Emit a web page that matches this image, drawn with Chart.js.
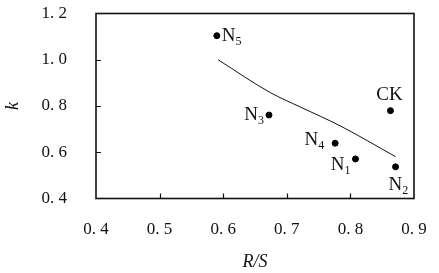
<!DOCTYPE html>
<html><head><meta charset="utf-8">
<script src="https://cdn.jsdelivr.net/npm/chart.js@4/dist/chart.umd.min.js"></script>
<style>html,body{margin:0;padding:0;background:#fff}canvas{display:block}</style>
</head><body><canvas id="c" width="439" height="273"></canvas>
<script>
// Data
const pointNames = ['N', 'N', 'N', 'N', 'CK', 'N'];
const pointSubs = ['5', '3', '4', '1', '', '2'];
const rsValues = [0.590, 0.672, 0.776, 0.808, 0.863, 0.871];
const kValues = [1.104, 0.761, 0.639, 0.571, 0.780, 0.537];
const fitRS = [0.592, 0.674, 0.721, 0.784, 0.871];
const fitK = [1.000, 0.858, 0.796, 0.714, 0.581];
const xTicks = [0.4, 0.5, 0.6, 0.7, 0.8, 0.9];
const yTicks = [0.4, 0.6, 0.8, 1.0, 1.2];

// label placement relative to its point: [dx, dy, align]
const labelPlacement = [[5, 5, 'left'], [-5, 5, 'right'], [-11, 2, 'right'], [-5, 11, 'right'], [-1, -11, 'center'], [-7, 23, 'left']];

const SERIF = '"Liberation Serif", "DejaVu Serif", serif';
const fmt = v => v.toFixed(1).replace('.', '. ');

const framePlugin = {
  id: 'frame',
  afterDraw(chart) {
    const ctx = chart.ctx;
    const {left, right, top, bottom} = chart.chartArea;
    const xs = chart.scales.x, ys = chart.scales.y;
    ctx.save();
    ctx.strokeStyle = '#111';
    ctx.lineWidth = 1.6;
    ctx.strokeRect(left, top, right - left, bottom - top);
    ctx.lineWidth = 1.2;
    ctx.beginPath();
    xs.ticks.forEach(t => {
      if (t.value > xs.min + 1e-9 && t.value < xs.max - 1e-9) {
        const px = Math.round(xs.getPixelForValue(t.value)) + 0.5;
        ctx.moveTo(px, bottom); ctx.lineTo(px, bottom - 5);
      }
    });
    ys.ticks.forEach(t => {
      if (t.value > ys.min + 1e-9 && t.value < ys.max - 1e-9) {
        const py = Math.round(ys.getPixelForValue(t.value)) + 0.5;
        ctx.moveTo(left, py); ctx.lineTo(left + 5, py);
      }
    });
    ctx.stroke();

    // point labels
    const meta = chart.getDatasetMeta(0);
    ctx.fillStyle = '#111';
    ctx.textBaseline = 'alphabetic';
    meta.data.forEach((el, i) => {
      const [dx, dy, align] = labelPlacement[i];
      const mainFont = '19px ' + SERIF, subFont = '12px ' + SERIF;
      ctx.font = mainFont;
      const w1 = ctx.measureText(pointNames[i]).width;
      ctx.font = subFont;
      const w2 = pointSubs[i] ? ctx.measureText(pointSubs[i]).width : 0;
      const total = w1 + w2;
      let x0 = el.x + dx;
      if (align === 'right') x0 -= total;
      else if (align === 'center') x0 -= total / 2;
      const by = el.y + dy;
      ctx.textAlign = 'left';
      ctx.font = mainFont;
      ctx.fillText(pointNames[i], x0, by);
      if (pointSubs[i]) {
        ctx.font = subFont;
        ctx.fillText(pointSubs[i], x0 + w1, by + 4);
      }
    });
    ctx.restore();
  }
};

new Chart(document.getElementById('c'), {
  type: 'scatter',
  data: {
    datasets: [
      {
        data: rsValues.map((x, i) => ({x, y: kValues[i]})),
        backgroundColor: '#000', borderColor: '#000',
        pointRadius: 3, pointHoverRadius: 3, showLine: false
      },
      {
        data: fitRS.map((x, i) => ({x, y: fitK[i]})),
        showLine: true, borderColor: '#111', borderWidth: 1,
        pointRadius: 0, cubicInterpolationMode: 'monotone', fill: false
      }
    ]
  },
  options: {
    responsive: false,
    animation: false,
    devicePixelRatio: 1,
    layout: {padding: {left: 0, right: 25, top: 13.5, bottom: 0}},
    plugins: {legend: {display: false}, tooltip: {enabled: false}},
    scales: {
      x: {
        type: 'linear', min: 0.4, max: 0.9,
        afterBuildTicks: s => { s.ticks = xTicks.map(v => ({value: v})); },
        afterFit: s => { s.height = 74.5; s.paddingLeft = 0; s.paddingRight = 0; },
        grid: {display: false}, border: {display: false},
        ticks: {padding: 13, color: '#111', font: {family: SERIF, size: 17}, callback: v => fmt(v)},
        title: {display: true, text: 'R/S', color: '#111', padding: 0,
                font: {family: SERIF, size: 18, style: 'italic'}}
      },
      y: {
        type: 'linear', min: 0.4, max: 1.2,
        afterBuildTicks: s => { s.ticks = yTicks.map(v => ({value: v})); },
        afterFit: s => { s.width = 96; s.paddingTop = 0; s.paddingBottom = 0; },
        grid: {display: false}, border: {display: false},
        ticks: {padding: 21, color: '#111', font: {family: SERIF, size: 17}, callback: v => fmt(v)},
        title: {display: true, text: 'k', color: '#111', padding: {top: 2, bottom: 0},
                font: {family: SERIF, size: 18, style: 'italic'}}
      }
    }
  },
  plugins: [framePlugin]
});
</script>
</body></html>
